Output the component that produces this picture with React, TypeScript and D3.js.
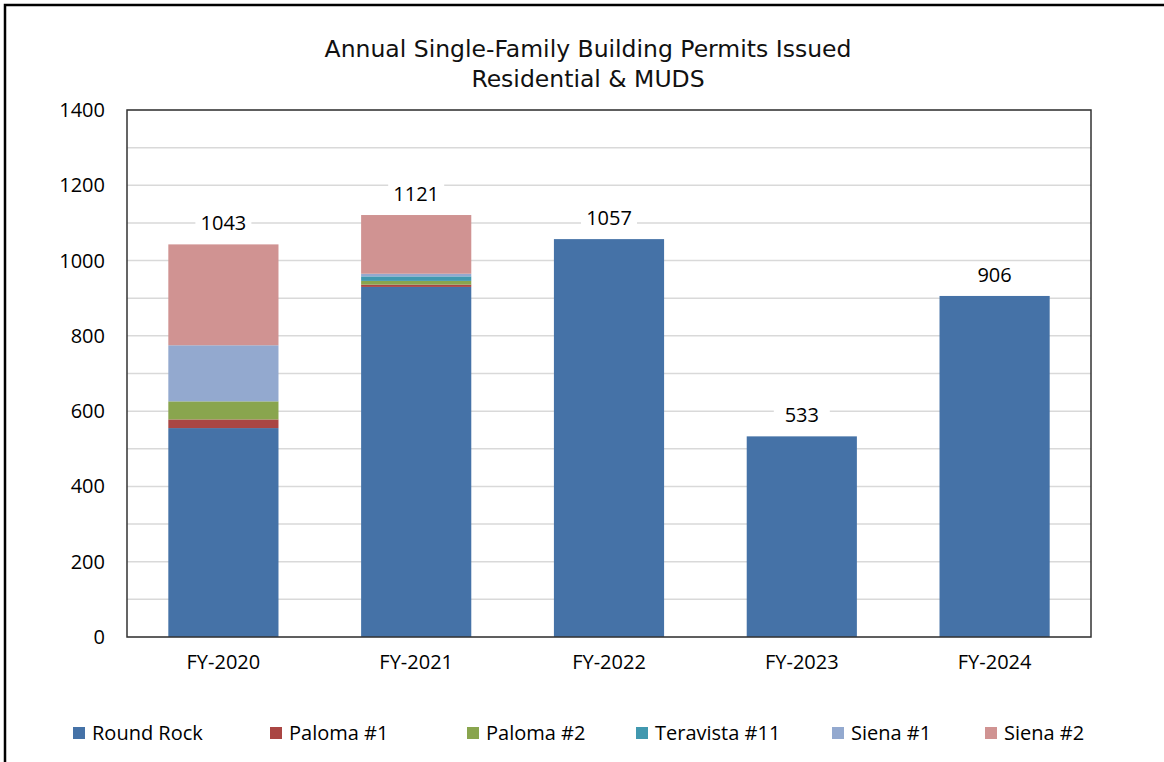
import React from "react";
import { scaleBand, scaleLinear, stack } from "d3";

const categories = ["FY-2020", "FY-2021", "FY-2022", "FY-2023", "FY-2024"];
const seriesNames = ["Round Rock", "Paloma #1", "Paloma #2", "Teravista #11", "Siena #1", "Siena #2"];
const roundRock = [555, 930, 1057, 533, 906];
const paloma1 = [23, 6, 0, 0, 0];
const paloma2 = [48, 10, 0, 0, 0];
const teravista11 = [0, 12, 0, 0, 0];
const siena1 = [149, 7, 0, 0, 0];
const siena2 = [268, 156, 0, 0, 0];
const yTicks = [0, 200, 400, 600, 800, 1000, 1200, 1400];
const colors = ["#4572A7", "#AA4643", "#89A54E", "#4198AF", "#93A9CF", "#D09392"];

const W = 1164;
const H = 762;
const m = { left: 127, right: 1091, top: 110, bottom: 637 };
const labelFont = "'Open Sans', sans-serif";
const titleFont = "'DejaVu Sans', Verdana, sans-serif";

export default function App() {
  const seriesValues = [roundRock, paloma1, paloma2, teravista11, siena1, siena2];
  const rows = categories.map((c, i) => {
    const r: any = { cat: c };
    seriesNames.forEach((s, j) => (r[s] = seriesValues[j][i]));
    return r;
  });
  const layers = stack<any>().keys(seriesNames)(rows);
  const totals = rows.map((r) => seriesNames.reduce((a, s) => a + r[s], 0));

  const x = scaleBand().domain(categories).range([m.left, m.right]).paddingInner(0.4286).paddingOuter(0.2143);
  const y = scaleLinear().domain([0, 1400]).range([m.bottom, m.top]);
  const grid = y.ticks(14);

  // legend entries sit at Excel's spacing
  const legendX = [73, 270, 467, 636, 832, 985];

  return (
    <div style={{ position: "absolute", left: 0, top: 0 }}>
      <svg width={W} height={H} style={{ display: "block" }}>
        <rect x={0} y={0} width={W} height={H} fill="#fff" />
        <path d={`M5,${H} V5 H${W}`} fill="none" stroke="#000" strokeWidth={2.5} />
        <text x={588} y={57} textAnchor="middle" fontFamily={titleFont} fontSize={23.5} fill="#111">
          Annual Single-Family Building Permits Issued
        </text>
        <text x={588} y={87} textAnchor="middle" fontFamily={titleFont} fontSize={23.5} fill="#111">
          Residential &amp; MUDS
        </text>

        {grid.map((t) => (
          <line key={t} x1={m.left} x2={m.right} y1={y(t)} y2={y(t)} stroke="#d9d9d9" strokeWidth={1.5} />
        ))}

        {layers.map((layer, j) =>
          layer.map((d, i) =>
            d[1] - d[0] > 0 ? (
              <rect
                key={`${j}-${i}`}
                x={x(categories[i])}
                y={y(d[1])}
                width={x.bandwidth()}
                height={y(d[0]) - y(d[1])}
                fill={colors[j]}
              />
            ) : null
          )
        )}

        <rect x={m.left} y={m.top} width={m.right - m.left} height={m.bottom - m.top} fill="none" stroke="#333" strokeWidth={1.5} />

        {totals.map((t, i) => {
          const cx = (x(categories[i]) as number) + x.bandwidth() / 2;
          const cy = y(t) - 21;
          return (
            <g key={i}>
              <rect x={cx - 28} y={cy - 12} width={56} height={24} fill="#fff" />
              <text x={cx} y={cy} dy="0.35em" textAnchor="middle" fontFamily={labelFont} fontSize={20} fill="#000">
                {t}
              </text>
            </g>
          );
        })}

        {yTicks.map((t) => (
          <text key={t} x={105} y={y(t)} dy="0.35em" textAnchor="end" fontFamily={labelFont} fontSize={20} fill="#000">
            {t}
          </text>
        ))}

        {categories.map((c) => (
          <text key={c} x={(x(c) as number) + x.bandwidth() / 2} y={662} dy="0.35em" textAnchor="middle" fontFamily={labelFont} fontSize={20} fill="#000">
            {c}
          </text>
        ))}

        {seriesNames.map((s, j) => (
          <g key={s} transform={`translate(${legendX[j]},733)`}>
            <rect x={0} y={-6} width={12} height={12} fill={colors[j]} />
            <text x={19} y={0} dy="0.35em" fontFamily={labelFont} fontSize={20} fill="#000">
              {s}
            </text>
          </g>
        ))}
      </svg>
    </div>
  );
}
